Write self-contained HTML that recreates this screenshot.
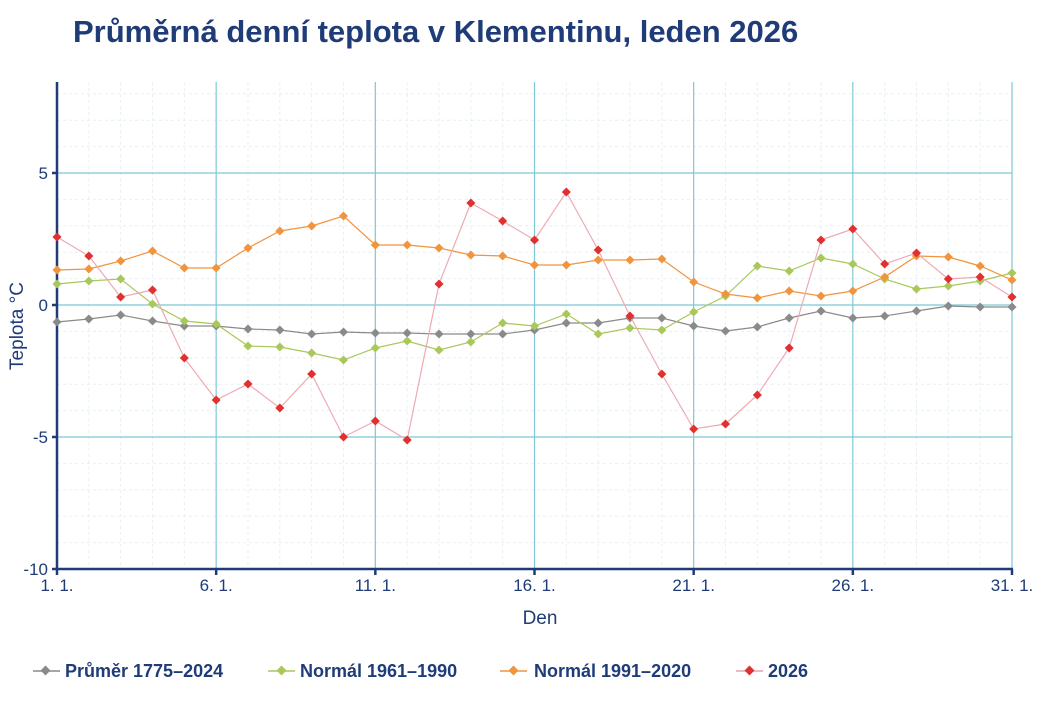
<!DOCTYPE html>
<html><head><meta charset="utf-8"><style>
html,body{margin:0;padding:0;background:#fff;width:1043px;height:714px;overflow:hidden}
svg{display:block}
text{font-family:"Liberation Sans",sans-serif}
</style></head><body>
<svg id="s" width="1043" height="714" xmlns="http://www.w3.org/2000/svg">
<text x="73" y="42" font-size="31" font-weight="bold" fill="#1f3c78">Průměrná denní teplota v Klementinu, leden 2026</text>
<g id="grid"></g>
<g id="series"></g>
<text x="23" y="326" font-size="19" fill="#1f3c78" text-anchor="middle" transform="rotate(-90 23 326)">Teplota °C</text>
<text x="540" y="624" font-size="19" fill="#1f3c78" text-anchor="middle">Den</text>
<g font-size="18" font-weight="bold" fill="#1f3c78">
<line x1="33" y1="671" x2="60" y2="671" stroke="#8a8a8a" stroke-width="1.5"/><rect x="42" y="667" width="7" height="7" fill="#8a8a8a" transform="rotate(45 45.5 670.5)"/>
<text x="65" y="677">Průměr 1775–2024</text>
<line x1="268" y1="671" x2="295" y2="671" stroke="#a8c85a" stroke-width="1.5"/><rect x="278" y="667" width="7" height="7" fill="#a8c85a" transform="rotate(45 281.5 670.5)"/>
<text x="300" y="677">Normál 1961–1990</text>
<line x1="500" y1="671" x2="527" y2="671" stroke="#f0943e" stroke-width="1.5"/><rect x="510" y="667" width="7" height="7" fill="#f0943e" transform="rotate(45 513.5 670.5)"/>
<text x="534" y="677">Normál 1991–2020</text>
<line x1="736" y1="671" x2="763" y2="671" stroke="#e8a0a8" stroke-width="1.5"/><rect x="746" y="667" width="7" height="7" fill="#e03030" transform="rotate(45 749.5 670.5)"/>
<text x="768" y="677">2026</text>
</g>
</svg>
<script>
const NS="http://www.w3.org/2000/svg";
const X=d=>57+(d-1)*955/30;
const Y=v=>305-v*26.4;
function el(p,t,a,txt){const e=document.createElementNS(NS,t);for(const k in a)e.setAttribute(k,a[k]);if(txt!==undefined)e.textContent=txt;p.appendChild(e);return e;}
const g=document.getElementById('grid');
for(let d=1;d<=31;d++){if((d-1)%5)el(g,'line',{x1:X(d),y1:82,x2:X(d),y2:569,stroke:'#e6f0f3','stroke-width':1,'stroke-dasharray':'3,3'});}
for(let v=-9;v<=8;v++){if(v%5)el(g,'line',{x1:57,y1:Y(v),x2:1012,y2:Y(v),stroke:'#e6f0f3','stroke-width':1,'stroke-dasharray':'3,3'});}
for(let d=6;d<=31;d+=5)el(g,'line',{x1:X(d),y1:82,x2:X(d),y2:569,stroke:'#7ec8d3','stroke-width':1.2});
for(const v of [5,0,-5])el(g,'line',{x1:57,y1:Y(v),x2:1012,y2:Y(v),stroke:'#7ec8d3','stroke-width':1.2});
el(g,'line',{x1:57,y1:82,x2:57,y2:570,stroke:'#1f3c78','stroke-width':2.5});
el(g,'line',{x1:56,y1:569,x2:1013,y2:569,stroke:'#1f3c78','stroke-width':2.5});
for(const v of [5,0,-5,-10]){el(g,'line',{x1:52,y1:Y(v),x2:57,y2:Y(v),stroke:'#1f3c78','stroke-width':2.5});el(g,'text',{x:48,y:Y(v)+6,'font-size':17,fill:'#1f3c78','text-anchor':'end'},String(v));}
for(let d=1;d<=31;d+=5){el(g,'line',{x1:X(d),y1:569,x2:X(d),y2:575,stroke:'#1f3c78','stroke-width':2.5});el(g,'text',{x:X(d),y:591,'font-size':17,fill:'#1f3c78','text-anchor':'middle'},d+'. 1.');}
const S=[
['#8a8a8a','#8a8a8a',[322,319,315,321,326,326,329,330,334,332,333,333,334,334,334,330,323,323,318,318,326,331,327,318,311,318,316,311,306,307,307]],
['#a8c85a','#a8c85a',[284,281,279,304,321,324,346,347,353,360,348,341,350,342,323,326,314,334,328,330,312,296,266,271,258,264,279,289,286,281,273]],
['#f0943e','#f0943e',[270,269,261,251,268,268,248,231,226,216,245,245,248,255,256,265,265,260,260,259,282,294,298,291,296,291,277,256,257,266,280]],
['#eeaab2','#e03030',[237,256,297,290,358,400,384,408,374,437,421,440,284,203,221,240,192,250,316,374,429,424,395,348,240,229,264,253,279,277,297]]];
const sg=document.getElementById('series');
for(const [lc,mc,ys] of S){
 el(sg,'polyline',{points:ys.map((y,i)=>X(i+1)+','+y).join(' '),fill:'none',stroke:lc,'stroke-width':1.2});
 ys.forEach((y,i)=>{const x=X(i+1);el(sg,'rect',{x:x-3.2,y:y-3.2,width:6.4,height:6.4,fill:mc,transform:`rotate(45 ${x} ${y})`});});
}
</script>
</body></html>
